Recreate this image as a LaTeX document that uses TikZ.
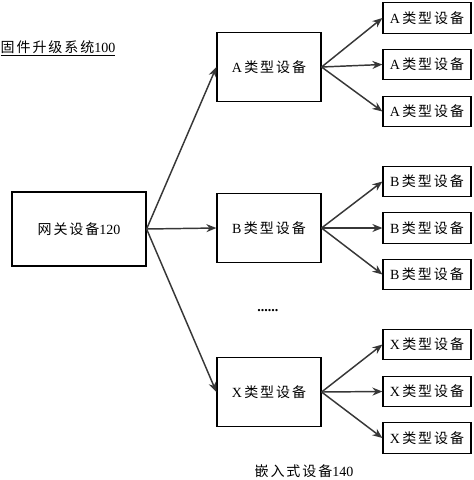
\documentclass[tikz,border=0pt]{standalone}
\usepackage{fontspec}
\setmainfont{Liberation Serif}
\newfontfamily\cjk[LetterSpace=14]{Noto Sans CJK SC}
\usetikzlibrary{arrows.meta}
\definecolor{linegray}{RGB}{55,55,55}
\tikzset{
  devbox/.style={draw=black,line width=0.9pt,inner sep=0pt,align=center,
    font=\fontsize{10.5}{12}\selectfont},
  gwbox/.style={devbox,minimum width=100.5pt,minimum height=55.5pt},
  grpbox/.style={devbox,minimum width=78pt,minimum height=52pt},
  leafbox/.style={devbox,minimum width=66pt,minimum height=23pt},
  link/.style={draw=linegray,line width=1.1pt,-{Stealth[length=7.5pt,width=6pt]}},
  plaintext/.style={inner sep=0pt,font=\fontsize{10.5}{12}\selectfont}
}
\begin{document}
\begin{tikzpicture}[x=0.75pt,y=0.75pt,yscale=-1,xscale=1]
\useasboundingbox (0,0) rectangle (474,480);

% title and caption
\node[plaintext] (title) at (58,48) {\underline{{\cjk 固件升级系统}100}};
\node[plaintext] (caption) at (304,471) {{\cjk 嵌入式设备}140};
\node[plaintext] (dots) at (268,311) {\textbf{......}};

% gateway
\node[gwbox] (gw) at (79,229) {{\cjk 网关设备}120};

% device groups
\foreach \t/\y/\ya/\yb/\yc in {A/67/18/64.5/111.5, B/228/181.5/228/274.5, X/392/344.5/391.5/438}{
  \node[grpbox] (grp\t) at (269,\y) {\t\,{\cjk 类型设备}};
  \node[leafbox] (leaf\t1) at (427,\ya) {\t\,{\cjk 类型设备}};
  \node[leafbox] (leaf\t2) at (427,\yb) {\t\,{\cjk 类型设备}};
  \node[leafbox] (leaf\t3) at (427,\yc) {\t\,{\cjk 类型设备}};
  \draw[link] (gw.east) -- (grp\t.west);
  \draw[link] (grp\t.east) -- (leaf\t1.west);
  \draw[link] (grp\t.east) -- (leaf\t2.west);
  \draw[link] (grp\t.east) -- (leaf\t3.west);
}
\end{tikzpicture}
\end{document}
